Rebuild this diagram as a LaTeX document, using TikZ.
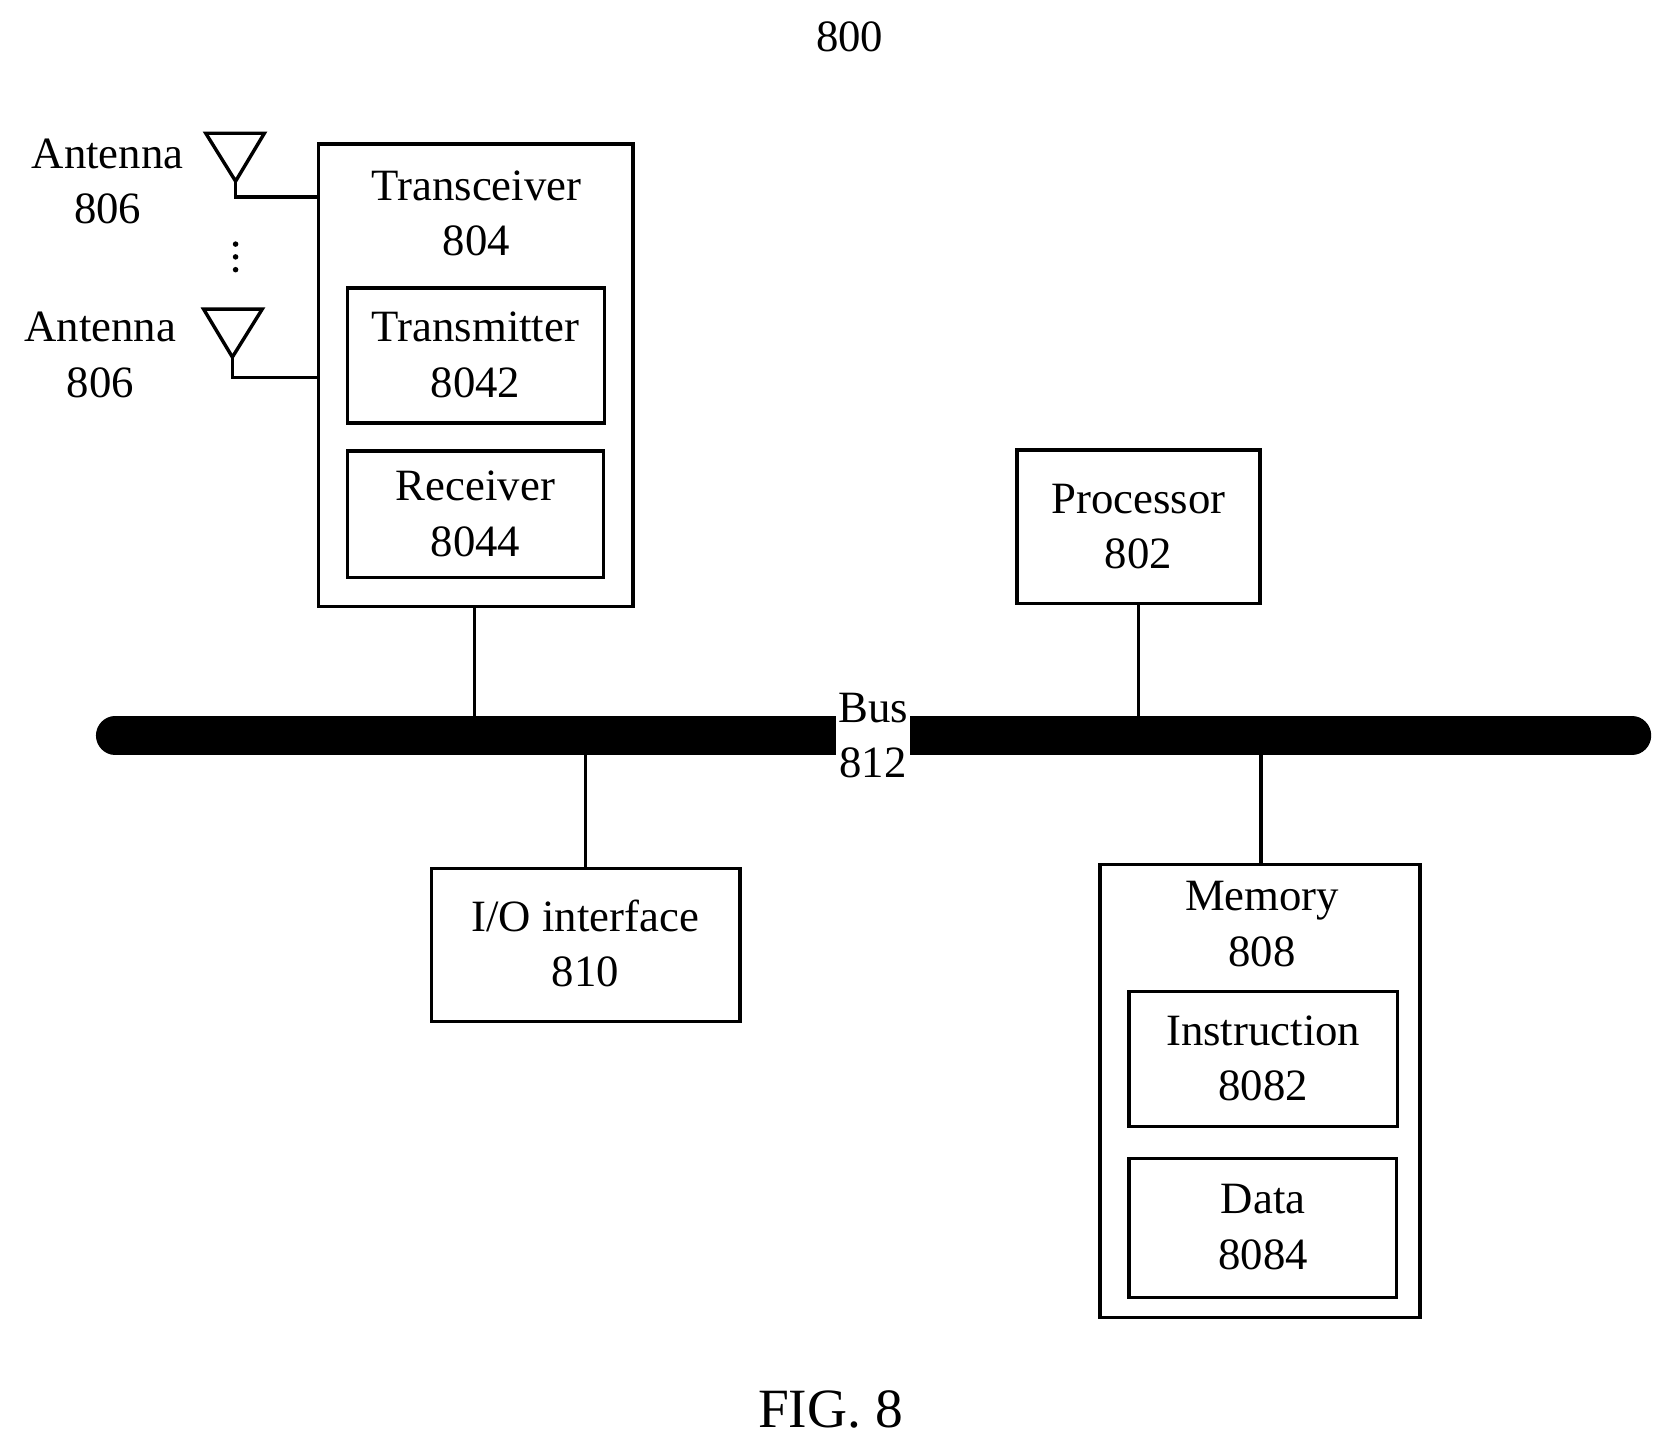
\documentclass[tikz,border=0pt]{standalone}
\usepackage{fontspec}
\setmainfont{Liberation Serif}
\begin{document}
\begin{tikzpicture}[x=0.5pt,y=-0.5pt,
  box/.style={draw,line width=1.6pt},
  ln/.style={line width=1.6pt},
  lbl/.style={font=\fontsize{21}{26}\selectfont,align=center,inner sep=0pt}]
\useasboundingbox (0,0) rectangle (1561,1352);
\node[lbl] (t800) at (797,35) {800};
% antennas
\coordinate (a1) at (221,185); \coordinate (a2) at (218,354);
\coordinate (x1) at (299,185); \coordinate (x2) at (299,354);
\draw[ln] (193,125) -- (248,125) -- (221,170) -- cycle;
\draw[ln] (221,170) -- (a1) -- (x1);
\draw[ln] (191,290) -- (246,290) -- (218,335) -- cycle;
\draw[ln] (218,335) -- (a2) -- (x2);
\node[lbl] (ant1) at (101,170) {Antenna\\806};
\node[lbl] (ant2) at (94,333) {Antenna\\806};
\foreach \y in {229,241,253} \fill (221,\y) circle (1.3pt);
% transceiver
\draw[box] (299,135) rectangle (594,569);
\node[lbl] (trx) at (447,200) {Transceiver\\804};
\draw[box] (326,270) rectangle (567,397);
\node[lbl] (tx) at (446,333) {Transmitter\\8042};
\draw[box] (326,423) rectangle (566,542);
\node[lbl] (rx) at (446,482) {Receiver\\8044};
% bus
\coordinate (b1) at (108,690); \coordinate (b2) at (1531,690);
\draw[line width=18pt,line cap=round] (b1) -- (b2);
\node[lbl,fill=white,inner xsep=1pt] (bus) at (819,690) {Bus\\812};
% processor
\draw[box] (954,422) rectangle (1182,566);
\node[lbl] (proc) at (1068,494) {Processor\\802};
\draw[ln] (1068,566) -- (1068,690);
\draw[ln] (445,569) -- (445,690);
% io
\draw[box] (405,815) rectangle (694,958);
\node[lbl] (io) at (549,885) {I/O interface\\810};
\draw[ln] (549,690) -- (549,815);
% memory
\draw[box] (1032,811) rectangle (1332,1236);
\node[lbl] (mem) at (1184,867) {Memory\\808};
\draw[ln] (1183,690) -- (1183,811);
\draw[box] (1059,930) rectangle (1311,1057);
\node[lbl] (ins) at (1185,993) {Instruction\\8082};
\draw[box] (1059,1087) rectangle (1310,1217);
\node[lbl] (dat) at (1185,1151) {Data\\8084};
\node[lbl,font=\fontsize{26}{30}\selectfont] (fig) at (779,1322) {FIG. 8};
\end{tikzpicture}
\end{document}
